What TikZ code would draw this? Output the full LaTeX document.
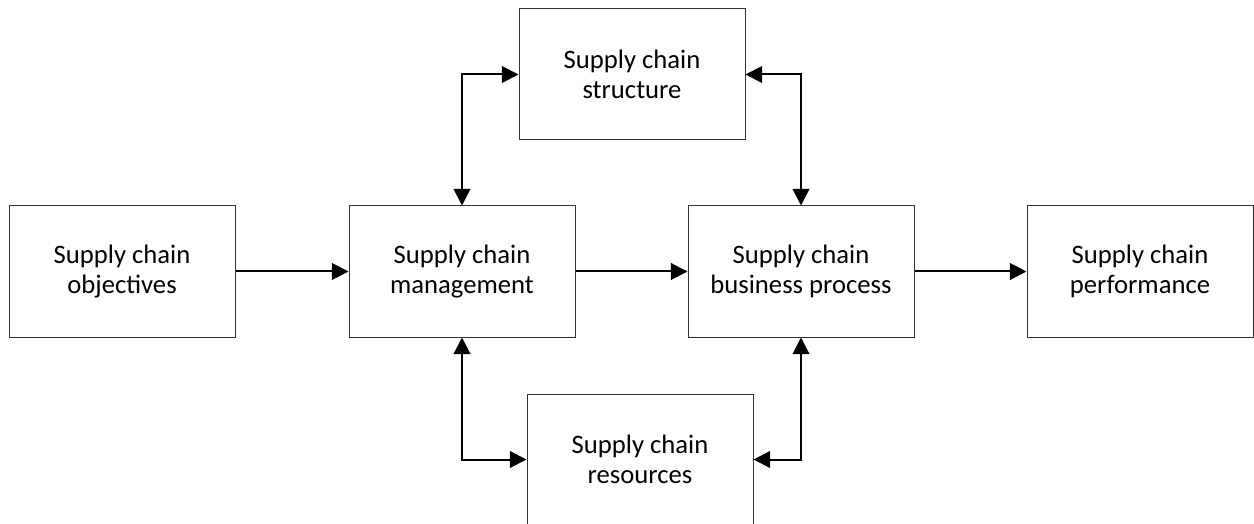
\documentclass[tikz,border=0pt]{standalone}
\usepackage{fontspec}
\setmainfont{Carlito}
\usepackage{tikz}
\usetikzlibrary{arrows.meta, positioning}

\begin{document}
\begin{tikzpicture}[
        x=0.75pt, y=-0.75pt,
        block/.style={rectangle, draw=black!80, line width=0.75pt, minimum width=169.5pt, minimum height=98.25pt, align=center, font=\fontsize{20}{22.5}\selectfont},
        arrow/.style={-{Triangle[length=12.5pt, width=12.5pt]}, line width=1.5pt},
        dblarrow/.style={{Triangle[length=12.5pt, width=12.5pt]}-{Triangle[length=12.5pt, width=12.5pt]}, line width=1.5pt}
    ]
        \useasboundingbox (0,0) rectangle (1254,524);
        \clip (0,0) rectangle (1254,524);

        % Nodes
        \node[block] (objectives) at (122, 271.5) {Supply chain\\objectives};
        \node[block] (management) at (462, 271.5) {Supply chain\\management};
        \node[block] (business) at (801, 271.5) {Supply chain\\business process};
        \node[block] (performance) at (1140, 271.5) {Supply chain\\performance};
        \node[block] (structure) at (632, 74.5) {Supply chain\\structure};
        \node[block] (resources) at (640, 459.5) {Supply chain\\resources};

        % Main flow
        \draw[arrow] (objectives.east) -- (management.west);
        \draw[arrow] (management.east) -- (business.west);
        \draw[arrow] (business.east) -- (performance.west);

        % Links to structure and resources
        \draw[dblarrow] (management.north) |- (structure.west);
        \draw[dblarrow] (business.north) |- (structure.east);
        \draw[dblarrow] (management.south) |- (resources.west);
        \draw[dblarrow] (business.south) |- (resources.east);
    \end{tikzpicture}
\end{document}
